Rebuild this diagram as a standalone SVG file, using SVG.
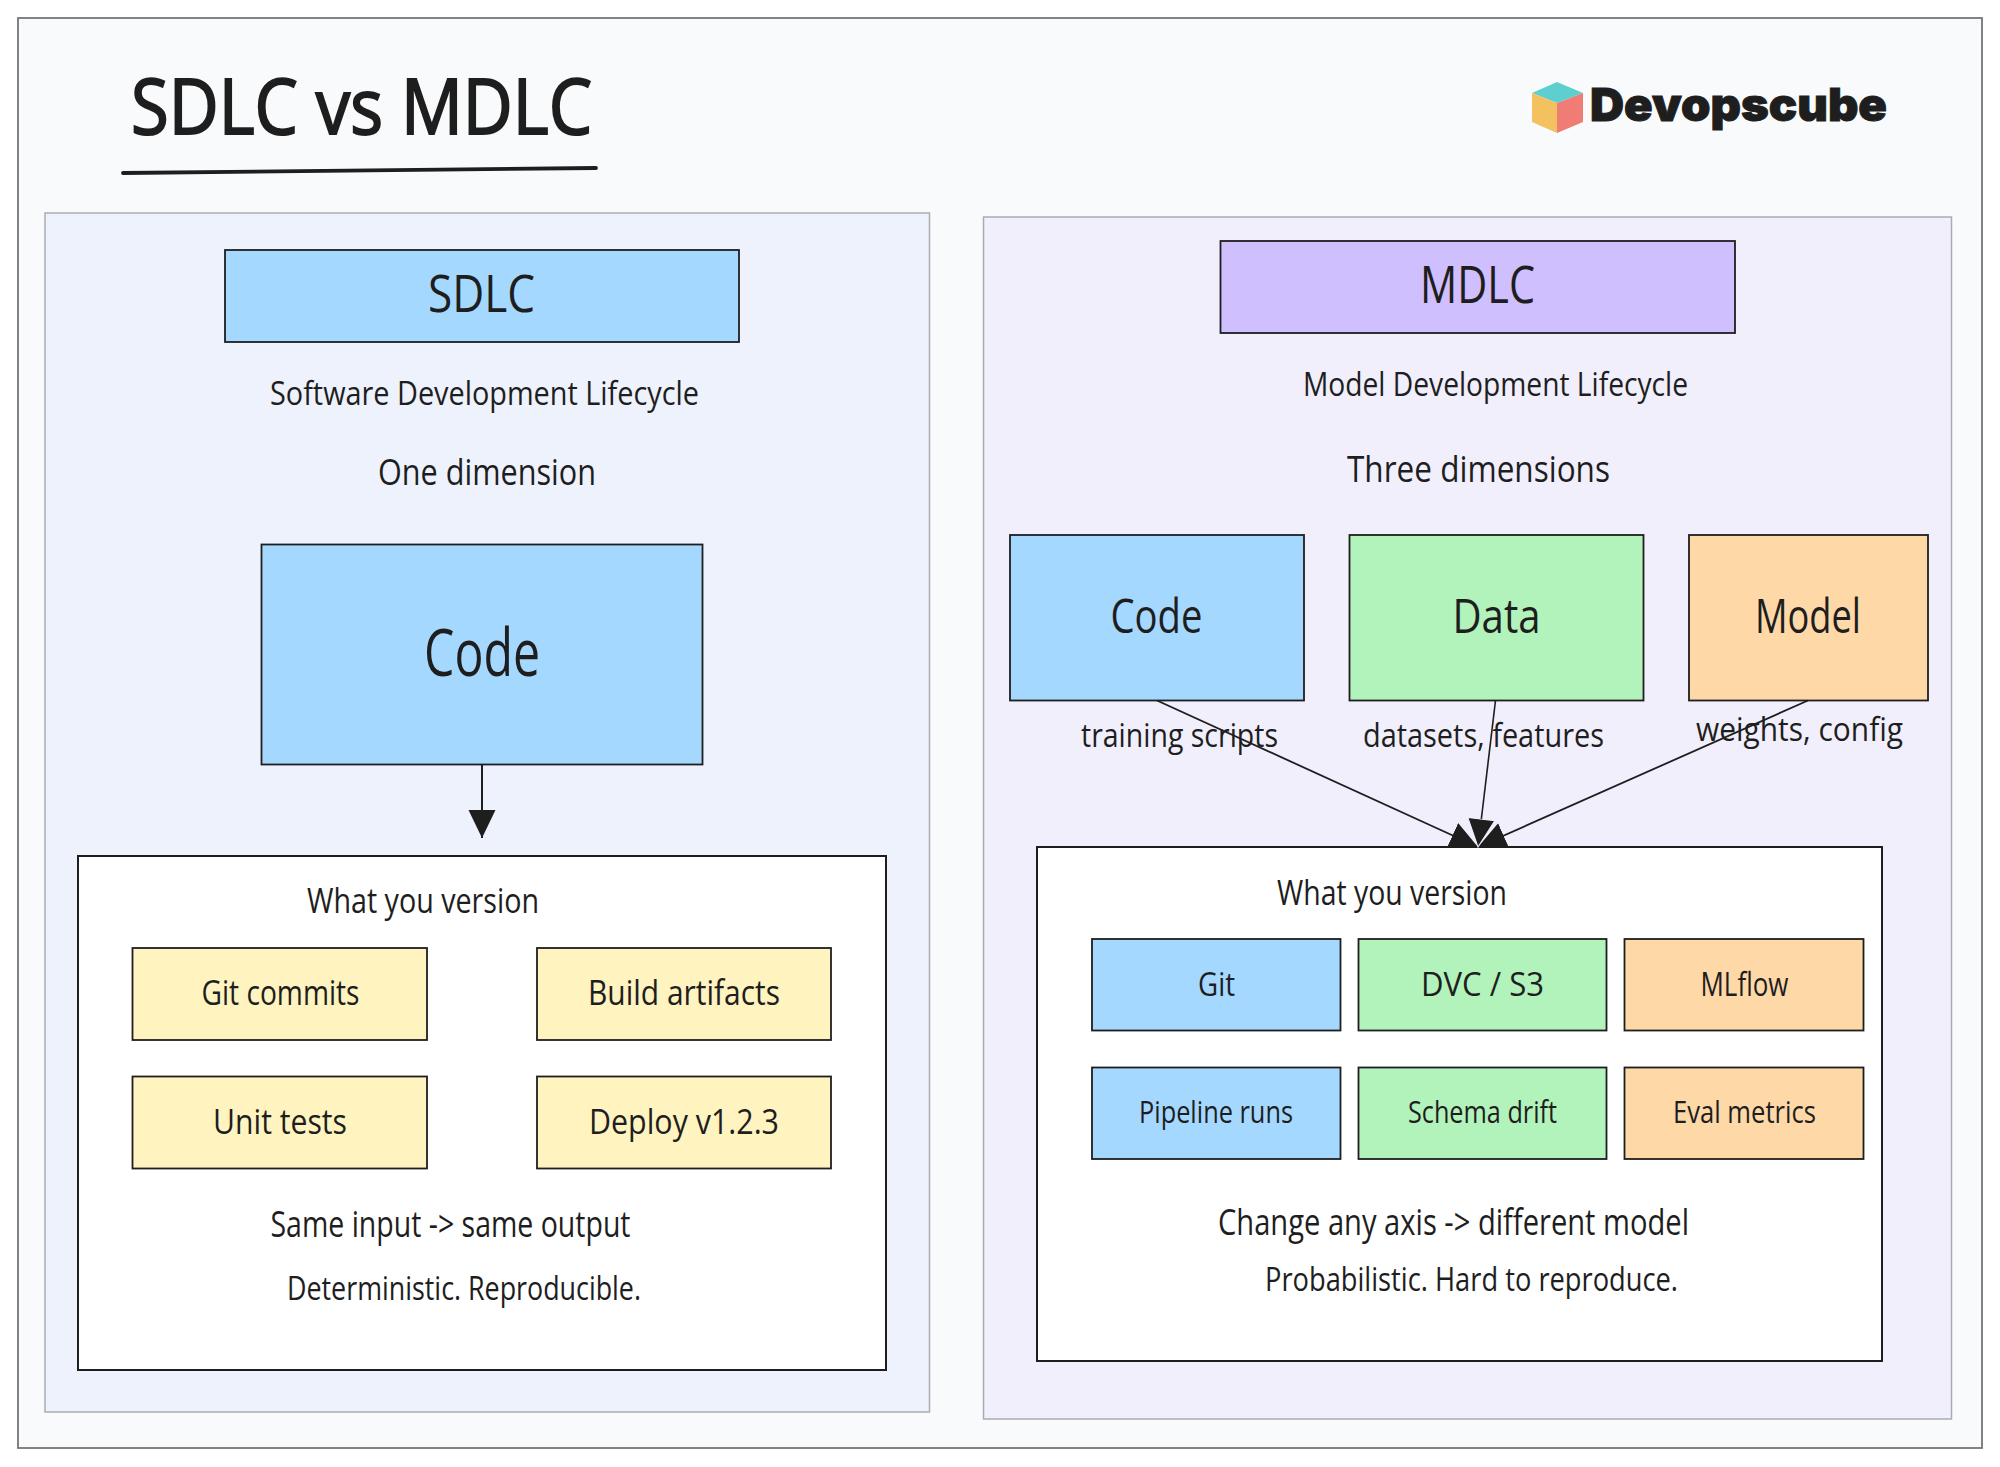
<svg xmlns="http://www.w3.org/2000/svg" width="2000" height="1467" viewBox="0 0 2000 1467">
<style>
text{font-family:"Open Sans","Noto Sans",sans-serif;fill:#1e1e1e;}
.b{stroke:#1e1e1e;stroke-width:1.8;}
.blue{fill:#a5d8ff}.green{fill:#b2f2bb}.orange{fill:#ffd8a8}.purple{fill:#d0bfff}.yellow{fill:#fff3bf}.white{fill:#fff}
.panel{stroke:#a9adb3;stroke-width:1.5;}
.c{stroke:#1e1e1e;stroke-width:2;fill:none;}
</style>
<defs>
<marker id="head" markerUnits="userSpaceOnUse" markerWidth="32" markerHeight="30" refX="28" refY="14" orient="auto"><path d="M0 0.500L28 14L0 27.500Z" fill="#1e1e1e"/></marker>
<marker id="headGap" markerUnits="userSpaceOnUse" markerWidth="32" markerHeight="30" refX="28" refY="14" orient="auto"><path d="M0 0.500L28 14L0 27.500Z" fill="#1e1e1e" stroke="#f1effc" stroke-width="1"/></marker>
</defs>
<rect width="2000" height="1467" fill="#ffffff"/>
<rect id="frame" x="18" y="18" width="1964" height="1430" fill="#f9fafc" stroke="#757575" stroke-width="1.8"/>
<g id="title">
<text x="131" y="134" font-size="77" textLength="461" lengthAdjust="spacingAndGlyphs" stroke="#1e1e1e" stroke-width="2">SDLC vs MDLC</text>
<path d="M123 173L596 168" stroke="#1e1e1e" stroke-width="3.8" stroke-linecap="round" fill="none"/>
</g>
<g id="logo">
<polygon points="1557,82 1583,93 1557,103 1532,93" fill="#5ccfce"/>
<polygon points="1532,93 1557,103 1557,133 1532,122" fill="#f4c160"/>
<polygon points="1583,93 1557,103 1557,133 1583,122" fill="#ef7d75"/>
<text x="1590" y="121" font-size="46" font-weight="900" textLength="297" lengthAdjust="spacingAndGlyphs" stroke="#1e1e1e" stroke-width="1" style="font-family:Inter,'Open Sans',sans-serif">Devopscube</text>
</g>
<g id="sdlc-panel">
<rect x="45" y="213" width="884.500" height="1199" class="panel" fill="#eef2fd"/>
<g id="sdlc-head"><rect x="225" y="250" width="514" height="92" class="b blue"/><text x="428" y="312" font-size="52" textLength="107" lengthAdjust="spacingAndGlyphs">SDLC</text></g>
<text x="270" y="405" font-size="32" textLength="429" lengthAdjust="spacingAndGlyphs">Software Development Lifecycle</text>
<text x="378" y="485" font-size="37" textLength="218" lengthAdjust="spacingAndGlyphs">One dimension</text>
<g id="sdlc-code"><rect x="261.500" y="544.500" width="441" height="220" class="b blue"/><text x="424" y="676" font-size="65" textLength="116" lengthAdjust="spacingAndGlyphs">Code</text></g>
<g id="sdlc-version">
<rect x="78" y="856" width="808" height="514" class="b white" style="stroke-width:2"/>
<text x="307" y="913" font-size="34" textLength="232" lengthAdjust="spacingAndGlyphs">What you version</text>
<text x="270.500" y="1237" font-size="36" textLength="360" lengthAdjust="spacingAndGlyphs">Same input -&gt; same output</text>
<text x="287" y="1300" font-size="33" textLength="354" lengthAdjust="spacingAndGlyphs">Deterministic. Reproducible.</text>
</g>
<g id="git-commits"><rect x="132.500" y="948" width="294.500" height="92" class="b yellow"/><text x="201.500" y="1005" font-size="34" textLength="158" lengthAdjust="spacingAndGlyphs">Git commits</text></g>
<g id="build-artifacts"><rect x="537" y="948" width="294" height="92" class="b yellow"/><text x="588" y="1005" font-size="34" textLength="192" lengthAdjust="spacingAndGlyphs">Build artifacts</text></g>
<g id="unit-tests"><rect x="132.500" y="1076.500" width="294.500" height="92" class="b yellow"/><text x="213" y="1134" font-size="34" textLength="134" lengthAdjust="spacingAndGlyphs">Unit tests</text></g>
<g id="deploy"><rect x="537" y="1076.500" width="294" height="92" class="b yellow"/><text x="589" y="1134" font-size="34" textLength="190" lengthAdjust="spacingAndGlyphs">Deploy v1.2.3</text></g>
</g>
<g id="mdlc-panel">
<rect x="983.500" y="217" width="968" height="1202" class="panel" fill="#f1effc"/>
<g id="mdlc-head"><rect x="1220.500" y="241" width="514.500" height="92" class="b purple"/><text x="1420" y="303" font-size="52" textLength="115" lengthAdjust="spacingAndGlyphs">MDLC</text></g>
<text x="1303" y="396" font-size="32" textLength="385" lengthAdjust="spacingAndGlyphs">Model Development Lifecycle</text>
<text x="1347" y="482" font-size="37" textLength="263" lengthAdjust="spacingAndGlyphs">Three dimensions</text>
<g id="mdlc-code"><rect x="1010" y="535" width="294" height="165.500" class="b blue"/><text x="1110.500" y="633" font-size="47" textLength="92" lengthAdjust="spacingAndGlyphs">Code</text></g>
<g id="mdlc-data"><rect x="1349.500" y="535" width="294" height="165.500" class="b green"/><text x="1452.500" y="633" font-size="47" textLength="88" lengthAdjust="spacingAndGlyphs">Data</text></g>
<g id="mdlc-model"><rect x="1689" y="535" width="239" height="165.500" class="b orange"/><text x="1755" y="633" font-size="47" textLength="106" lengthAdjust="spacingAndGlyphs">Model</text></g>
<g id="mdlc-version">
<rect x="1037" y="847" width="845" height="514" class="b white" style="stroke-width:2"/>
<text x="1277" y="905" font-size="34" textLength="230" lengthAdjust="spacingAndGlyphs">What you version</text>
<text x="1218" y="1235" font-size="36" textLength="471" lengthAdjust="spacingAndGlyphs">Change any axis -&gt; different model</text>
<text x="1265" y="1291" font-size="33" textLength="413" lengthAdjust="spacingAndGlyphs">Probabilistic. Hard to reproduce.</text>
</g>
<g id="git"><rect x="1092" y="939" width="248.500" height="91.500" class="b blue"/><text x="1198" y="996" font-size="32" textLength="37" lengthAdjust="spacingAndGlyphs">Git</text></g>
<g id="dvc"><rect x="1358.500" y="939" width="248" height="91.500" class="b green"/><text x="1421" y="996" font-size="32" textLength="123" lengthAdjust="spacingAndGlyphs">DVC / S3</text></g>
<g id="mlflow"><rect x="1624.500" y="939" width="239" height="91.500" class="b orange"/><text x="1700.500" y="996" font-size="32" textLength="88" lengthAdjust="spacingAndGlyphs">MLflow</text></g>
<g id="pipeline"><rect x="1092" y="1067.500" width="248.500" height="91.500" class="b blue"/><text x="1139" y="1123" font-size="31" textLength="154" lengthAdjust="spacingAndGlyphs">Pipeline runs</text></g>
<g id="schema"><rect x="1358.500" y="1067.500" width="248" height="91.500" class="b green"/><text x="1408" y="1123" font-size="31" textLength="149" lengthAdjust="spacingAndGlyphs">Schema drift</text></g>
<g id="eval"><rect x="1624.500" y="1067.500" width="239" height="91.500" class="b orange"/><text x="1673" y="1123" font-size="31" textLength="143" lengthAdjust="spacingAndGlyphs">Eval metrics</text></g>
</g>
<g id="connectors">
<path class="c" d="M482 765L482 838" marker-end="url(#head)"/>
<path class="c" style="stroke-width:1.8" d="M1157 700.500L1478 847" marker-end="url(#head)"/>
<path class="c" style="stroke-width:1.8" d="M1808 700.500L1478 847" marker-end="url(#head)"/>
<path class="c" style="stroke-width:1.6" d="M1495.500 700.500L1478 847" marker-end="url(#headGap)"/>
<text x="1081" y="747" font-size="32" textLength="197" lengthAdjust="spacingAndGlyphs">training scripts</text>
<text x="1363" y="747" font-size="32" textLength="241" lengthAdjust="spacingAndGlyphs">datasets, features</text>
<text x="1696" y="741" font-size="32" textLength="207" lengthAdjust="spacingAndGlyphs">weights, config</text>
</g>
</svg>
